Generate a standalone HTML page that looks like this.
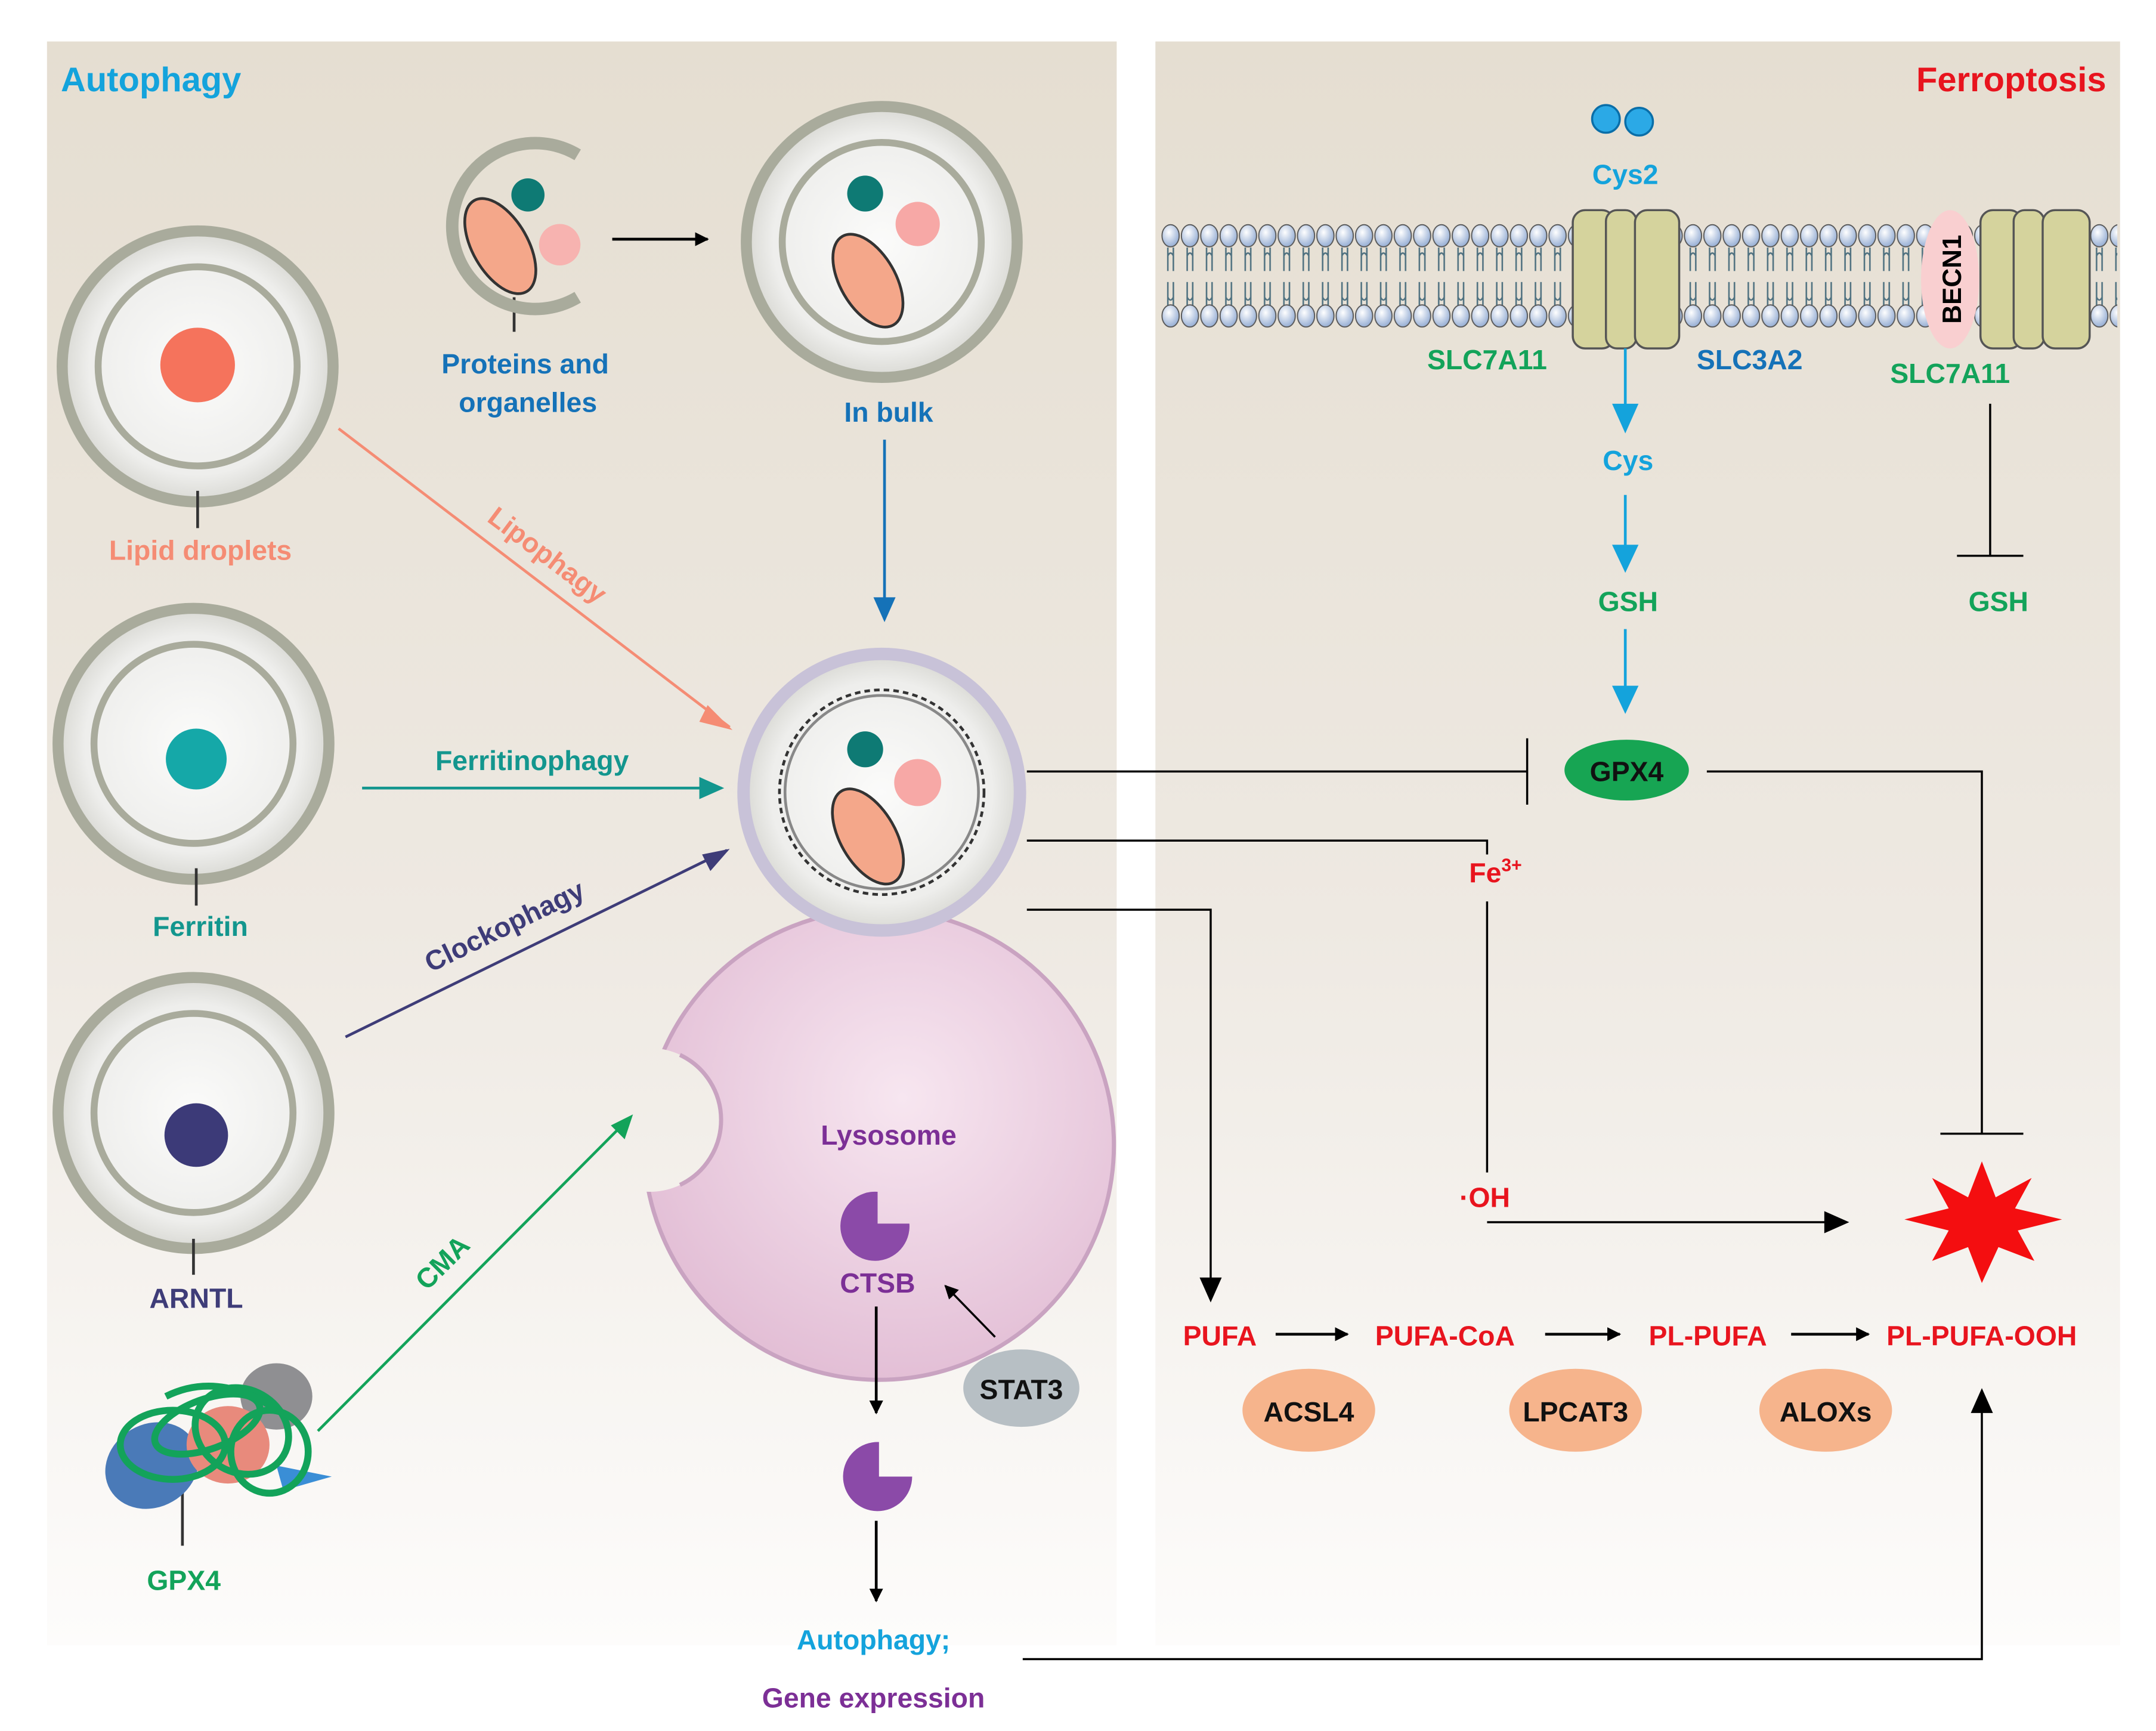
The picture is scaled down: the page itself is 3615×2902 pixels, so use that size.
<!DOCTYPE html>
<html><head><meta charset="utf-8"><style>html,body{margin:0;padding:0;background:#fff}svg{display:block}text{font-family:"Liberation Sans",sans-serif;font-weight:bold}</style></head><body>
<svg width="3615" height="2902" viewBox="0 0 1560 1252" preserveAspectRatio="none" xmlns="http://www.w3.org/2000/svg">
<defs>
<linearGradient id="bg" x1="0" y1="0" x2="0" y2="1"><stop offset="0" stop-color="#e5ded1"/><stop offset="0.55" stop-color="#eee9e2"/><stop offset="1" stop-color="#fdfcfb"/></linearGradient>
<radialGradient id="ves" cx="0.5" cy="0.5" r="0.5"><stop offset="0" stop-color="#fbfbfa"/><stop offset="0.8" stop-color="#eeeeec"/><stop offset="1" stop-color="#d9d9d4"/></radialGradient>
<radialGradient id="lys" cx="0.55" cy="0.4" r="0.6"><stop offset="0" stop-color="#f7e6f0"/><stop offset="1" stop-color="#e3bfd6"/></radialGradient>
<radialGradient id="head" cx="0.4" cy="0.35" r="0.6"><stop offset="0" stop-color="#ffffff"/><stop offset="1" stop-color="#9fb5d8"/></radialGradient>
<pattern id="mem" x="840" y="162" width="14" height="17" patternUnits="userSpaceOnUse">
<ellipse cx="7" cy="8.5" rx="6.2" ry="8" fill="url(#head)" stroke="#555" stroke-width="0.8"/>
</pattern>
<pattern id="tail" x="840" y="179" width="14" height="42" patternUnits="userSpaceOnUse">
<path d="M5,0 V17 M9,0 V17 M5,25 V42 M9,25 V42 M5,6 Q7,2 9,6 M5,36 Q7,40 9,36" stroke="#4f7180" stroke-width="1.1" fill="none"/>
</pattern>
<mask id="lm"><rect width="1560" height="1252" fill="#fff"/><circle cx="470" cy="810" r="52" fill="#000"/></mask>
<marker id="ak" markerWidth="10" markerHeight="10" refX="9" refY="5" orient="auto" markerUnits="userSpaceOnUse" viewBox="0 0 10 10"><path d="M0,0L10,5L0,10z" fill="#000"/></marker>
</defs>
<rect width="1560" height="1252" fill="#fff"/>
<rect x="34" y="30" width="774" height="1160" fill="url(#bg)"/>
<rect x="836" y="30" width="698" height="1160" fill="url(#bg)"/>
<text x="44" y="66" font-size="25" fill="#14a3dc">Autophagy</text>
<text x="1524" y="66" font-size="25" fill="#e8141e" text-anchor="end">Ferroptosis</text>

<g stroke="#a9ab9c" fill="none">
<circle cx="143" cy="265" r="98" fill="url(#ves)" stroke-width="8"/>
<circle cx="143" cy="265" r="72" stroke-width="5"/>
<circle cx="140" cy="538" r="98" fill="url(#ves)" stroke-width="8"/>
<circle cx="140" cy="538" r="72" stroke-width="5"/>
<circle cx="140" cy="805" r="98" fill="url(#ves)" stroke-width="8"/>
<circle cx="140" cy="805" r="72" stroke-width="5"/>
<circle cx="638" cy="175" r="98" fill="url(#ves)" stroke-width="8"/>
<circle cx="638" cy="175" r="72" stroke-width="5"/>
</g>
<circle cx="143" cy="264" r="27" fill="#f5735c"/>
<circle cx="142" cy="549" r="22" fill="#15a8a8"/>
<circle cx="142" cy="821" r="23" fill="#3c3a78"/>
<g stroke="#333" stroke-width="2"><line x1="143" y1="355" x2="143" y2="382"/><line x1="142" y1="628" x2="142" y2="655"/><line x1="140" y1="896" x2="140" y2="922"/><line x1="372" y1="215" x2="372" y2="240"/><line x1="132" y1="1075" x2="132" y2="1118"/></g>
<text x="145" y="405" font-size="20" fill="#f58c74" text-anchor="middle">Lipid droplets</text>
<text x="145" y="677" font-size="20" fill="#13968e" text-anchor="middle">Ferritin</text>
<text x="142" y="946" font-size="20" fill="#3e3c78" text-anchor="middle">ARNTL</text>

<path d="M418,112 A60,60 0 1 0 418,215" fill="none" stroke="#a9ab9c" stroke-width="9"/>
<circle cx="382" cy="141" r="12" fill="#0e7a74"/>
<circle cx="405" cy="177" r="15" fill="#f7b3b0"/>
<ellipse cx="362" cy="178" rx="20" ry="38" transform="rotate(-30 362 178)" fill="#f4a78a" stroke="#333" stroke-width="2"/>
<text x="380" y="270" font-size="20" fill="#1572b8" text-anchor="middle">Proteins and</text>
<text x="382" y="298" font-size="20" fill="#1572b8" text-anchor="middle">organelles</text>
<line x1="443" y1="173" x2="512" y2="173" stroke="#000" stroke-width="2" marker-end="url(#ak)"/>
<circle cx="626" cy="140" r="13" fill="#0e7a74"/>
<circle cx="664" cy="162" r="16" fill="#f7a8a6"/>
<ellipse cx="628" cy="203" rx="20" ry="37" transform="rotate(-30 628 203)" fill="#f4a78a" stroke="#333" stroke-width="2"/>
<text x="643" y="305" font-size="20" fill="#1572b8" text-anchor="middle">In bulk</text>
<line x1="640" y1="318" x2="640" y2="448" stroke="#1572b8" stroke-width="2"/>
<path d="M632,432 L648,432 L640,450z" fill="#1572b8"/>

<circle cx="636" cy="828" r="170" fill="url(#lys)" stroke="#c9a3c1" stroke-width="3" mask="url(#lm)"/>
<path d="M492,763 A52,52 0 0 1 492,857" fill="none" stroke="#c9a3c1" stroke-width="3"/>
<text x="643" y="828" font-size="20" fill="#7c2f96" text-anchor="middle">Lysosome</text>
<path d="M658,885 A25,25 0 1 1 635,862 L635,885z" fill="#8b4aa8"/>
<text x="635" y="935" font-size="20" fill="#7c2f96" text-anchor="middle">CTSB</text>
<circle cx="638" cy="573" r="100" fill="url(#ves)" stroke="#c8c2d8" stroke-width="9"/>
<circle cx="638" cy="573" r="74" fill="none" stroke="#333" stroke-width="2" stroke-dasharray="4 3"/>
<circle cx="638" cy="573" r="70" fill="none" stroke="#888" stroke-width="2"/>
<circle cx="626" cy="542" r="13" fill="#0e7a74"/>
<circle cx="664" cy="566" r="17" fill="#f7a8a6"/>
<ellipse cx="628" cy="605" rx="20" ry="38" transform="rotate(-30 628 605)" fill="#f4a78a" stroke="#333" stroke-width="2"/>

<line x1="245" y1="310" x2="528" y2="526" stroke="#f58c74" stroke-width="2"/>
<path d="M512,510 L530,528 L506,522z" fill="#f58c74"/>
<text x="392" y="407" font-size="20" fill="#f58c74" transform="rotate(37 392 407)" text-anchor="middle">Lipophagy</text>
<line x1="262" y1="570" x2="522" y2="570" stroke="#13968e" stroke-width="2"/>
<path d="M506,562 L524,570 L506,578z" fill="#13968e"/>
<text x="385" y="557" font-size="20" fill="#13968e" text-anchor="middle">Ferritinophagy</text>
<line x1="250" y1="750" x2="526" y2="615" stroke="#3e3c78" stroke-width="2"/>
<path d="M508,618 L528,614 L514,630z" fill="#3e3c78"/>
<text x="368" y="676" font-size="20" fill="#3e3c78" transform="rotate(-26 368 676)" text-anchor="middle">Clockophagy</text>
<line x1="230" y1="1035" x2="456" y2="808" stroke="#13a35a" stroke-width="2"/>
<path d="M442,814 L458,806 L452,824z" fill="#13a35a"/>
<text x="325" y="918" font-size="20" fill="#13a35a" transform="rotate(-45 325 918)" text-anchor="middle">CMA</text>

<ellipse cx="200" cy="1010" rx="26" ry="24" fill="#8f8f92"/>
<ellipse cx="110" cy="1060" rx="35" ry="30" fill="#4a7ab8" transform="rotate(-30 110 1060)"/>
<ellipse cx="165" cy="1045" rx="30" ry="28" fill="#e88a7c"/>
<path d="M200,1060 L240,1068 L205,1078z" fill="#3a8ed6"/>
<g fill="none" stroke="#13a35a" stroke-width="5"><ellipse cx="125" cy="1045" rx="38" ry="25"/><ellipse cx="175" cy="1035" rx="35" ry="30" transform="rotate(30 175 1035)"/><ellipse cx="150" cy="1030" rx="40" ry="18" transform="rotate(-20 150 1030)"/><ellipse cx="195" cy="1050" rx="28" ry="30"/><path d="M120,1010 C150,995 180,1005 200,1020"/></g>
<text x="133" y="1150" font-size="20" fill="#13a35a" text-anchor="middle">GPX4</text>

<line x1="634" y1="945" x2="634" y2="1022" stroke="#000" stroke-width="2" marker-end="url(#ak)"/>
<path d="M660,1068 A25,25 0 1 1 636,1043 L636,1068z" fill="#8b4aa8"/>
<line x1="634" y1="1100" x2="634" y2="1158" stroke="#000" stroke-width="2" marker-end="url(#ak)"/>
<ellipse cx="739" cy="1004" rx="42" ry="28" fill="#b7bfc4"/>
<text x="739" y="1012" font-size="20" fill="#111" text-anchor="middle">STAT3</text>
<line x1="720" y1="967" x2="684" y2="930" stroke="#000" stroke-width="1.5" marker-end="url(#ak)"/>
<text x="632" y="1193" font-size="20" fill="#14a3dc" text-anchor="middle">Autophagy;</text>
<text x="632" y="1235" font-size="20" fill="#7c2f96" text-anchor="middle">Gene expression</text>

<rect x="840" y="179" width="692" height="42" fill="url(#tail)"/>
<rect x="840" y="162" width="692" height="17" fill="url(#mem)"/>
<rect x="840" y="162" width="692" height="17" fill="url(#mem)" transform="translate(0,58)"/>
<g fill="#d5d39d" stroke="#555" stroke-width="1.5">
<rect x="1138" y="152" width="30" height="100" rx="9"/><rect x="1162" y="152" width="22" height="100" rx="8"/><rect x="1183" y="152" width="32" height="100" rx="9"/>
<rect x="1433" y="152" width="30" height="100" rx="9"/><rect x="1457" y="152" width="22" height="100" rx="8"/><rect x="1478" y="152" width="34" height="100" rx="9"/>
</g>
<ellipse cx="1411" cy="202" rx="21" ry="50" fill="#f9cfd0"/>
<text x="1419" y="202" font-size="19" fill="#000" text-anchor="middle" transform="rotate(-90 1419 202)">BECN1</text>

<circle cx="1162" cy="86" r="10" fill="#2ba9e6" stroke="#0a6ea8" stroke-width="1.5"/>
<circle cx="1186" cy="88" r="10" fill="#2ba9e6" stroke="#0a6ea8" stroke-width="1.5"/>
<text x="1176" y="133" font-size="20" fill="#14a3dc" text-anchor="middle">Cys2</text>
<text x="1076" y="267" font-size="20" fill="#13a35a" text-anchor="middle">SLC7A11</text>
<text x="1266" y="267" font-size="20" fill="#1572b8" text-anchor="middle">SLC3A2</text>
<text x="1411" y="277" font-size="20" fill="#13a35a" text-anchor="middle">SLC7A11</text>
<g stroke="#14a3dc" stroke-width="2" fill="#14a3dc">
<line x1="1176" y1="252" x2="1176" y2="300"/><path d="M1168,293 L1184,293 L1176,311z"/>
<line x1="1176" y1="358" x2="1176" y2="400"/><path d="M1168,395 L1184,395 L1176,412z"/>
<line x1="1176" y1="455" x2="1176" y2="503"/><path d="M1168,497 L1184,497 L1176,514z"/>
</g>
<text x="1178" y="340" font-size="20" fill="#14a3dc" text-anchor="middle">Cys</text>
<text x="1178" y="442" font-size="20" fill="#13a35a" text-anchor="middle">GSH</text>
<text x="1446" y="442" font-size="20" fill="#13a35a" text-anchor="middle">GSH</text>
<g stroke="#000" stroke-width="1.5" fill="none">
<line x1="1440" y1="292" x2="1440" y2="402"/><line x1="1416" y1="402" x2="1464" y2="402"/>
<polyline points="743,558 1105,558"/><line x1="1105" y1="534" x2="1105" y2="582"/>
<polyline points="1235,558 1434,558 1434,820"/><line x1="1404" y1="820" x2="1464" y2="820"/>
<polyline points="743,608 1076,608 1076,618"/>
<line x1="1076" y1="652" x2="1076" y2="848"/>
<polyline points="743,658 876,658 876,930"/>
<line x1="1076" y1="884" x2="1334" y2="884" marker-end="url(#ak)"/>
<polyline points="740,1200 1434,1200 1434,1008"/>
</g>
<path d="M868,924 L884,924 L876,942z" fill="#000"/>
<path d="M1320,876 L1338,884 L1320,892z" fill="#000"/>
<path d="M1426,1022 L1442,1022 L1434,1004z" fill="#000"/>
<ellipse cx="1177" cy="557" rx="45" ry="22" fill="#17a553"/>
<text x="1177" y="565" font-size="20" fill="#111" text-anchor="middle">GPX4</text>
<text x="1063" y="638" font-size="20" fill="#e8141e">Fe<tspan font-size="13" dy="-8">3+</tspan></text>
<text x="1056" y="873" font-size="20" fill="#e8141e">·OH</text>
<path d="M1434,840 L1444,866 L1470,852 L1458,874 L1492,882 L1460,890 L1472,912 L1446,902 L1434,928 L1424,902 L1398,912 L1410,890 L1378,882 L1410,874 L1398,852 L1424,866z" fill="#f40e10"/>
<g font-size="20" fill="#e8141e">
<text x="856" y="973">PUFA</text><text x="995" y="973">PUFA-CoA</text><text x="1193" y="973">PL-PUFA</text><text x="1365" y="973">PL-PUFA-OOH</text>
</g>
<g stroke="#000" stroke-width="2"><line x1="923" y1="965" x2="975" y2="965" marker-end="url(#ak)"/><line x1="1118" y1="965" x2="1172" y2="965" marker-end="url(#ak)"/><line x1="1296" y1="965" x2="1352" y2="965" marker-end="url(#ak)"/></g>
<g fill="#f6b48c"><ellipse cx="947" cy="1020" rx="48" ry="30"/><ellipse cx="1140" cy="1020" rx="48" ry="30"/><ellipse cx="1321" cy="1020" rx="48" ry="30"/></g>
<g font-size="20" fill="#111" text-anchor="middle"><text x="947" y="1028">ACSL4</text><text x="1140" y="1028">LPCAT3</text><text x="1321" y="1028">ALOXs</text></g>
</svg>
</body></html>
